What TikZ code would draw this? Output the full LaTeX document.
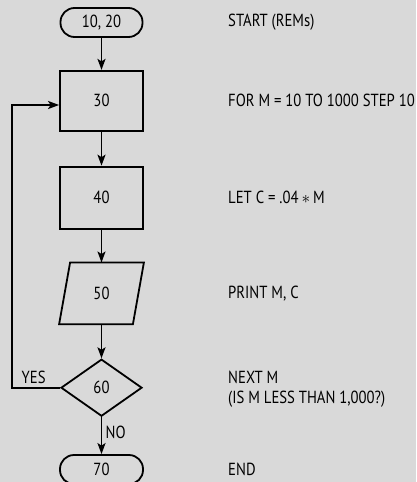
\documentclass[tikz,border=0pt]{standalone}
\usepackage{fontspec}
\setmainfont{PT Sans}[FakeStretch=0.84]
\usepackage{tikz}
\usetikzlibrary{arrows.meta,positioning,shapes.geometric,calc}
\definecolor{Paper}{HTML}{D9D9D9}

\begin{document}
\begin{tikzpicture}[x=1pt, y=1pt, node distance=34pt, line width=1.8pt,
    every node/.style={font=\fontsize{17.5}{20}\selectfont},
    arr/.style={-{Stealth[length=11pt,width=8pt,inset=2.5pt]}}]
  \fill[Paper] (0,0) rectangle (416,-482);
  \useasboundingbox (0,0) rectangle (416,-482);

  \node[draw, rounded corners=14pt, minimum width=82pt, minimum height=29pt] (start) at (101.5,-22.5) {10, 20};
  \node[draw, below=32pt of start, minimum width=83pt, minimum height=60pt] (b30) {30};
  \node[draw, below=of b30, minimum width=83pt, minimum height=62pt] (b40) {40};
  \node[below=33pt of b40, minimum width=83pt, minimum height=60pt, inner sep=0pt] (p50) {50};
  \draw ($(p50.north west)+(11,0)$) -- (p50.north east) -- ($(p50.south east)+(-11,0)$) -- (p50.south west) -- cycle;
  \node[draw, diamond, below=34pt of p50, minimum width=81pt, minimum height=57pt, inner sep=0pt] (d60) {60};
  \node[draw, rounded corners=14pt, below=37pt of d60, minimum width=83pt, minimum height=29pt] (e70) {70};

  \foreach \a/\b in {start/b30, b30/b40, b40/p50, p50/d60}
    \draw[arr] (\a) -- (\b);
  \draw[arr] (d60) -- node[right, pos=.4] {NO} (e70);

  % loop back from the test
  \coordinate (turn) at (12,-105);
  \draw[arr] (d60.west) -- node[above, pos=.55] {YES} (d60.west -| turn) -- (turn) -- (turn -| b30.west);

  % statements
  \coordinate (tx) at (224,0);
  \node[anchor=west] (t10) at (start -| tx) {START (REMs)};
  \node[anchor=west] (t30) at (b30 -| tx) {FOR M = 10 TO 1000 STEP 10};
  \node[anchor=west] (t40) at (b40 -| tx) {LET C = .04\,$\ast$\,M};
  \node[anchor=west] (t50) at (p50 -| tx) {PRINT M, C};
  \node[anchor=west, align=left] (t60) at ($(d60 -| tx)+(0,-1)$) {NEXT M\\(IS M LESS THAN 1,000?)};
  \node[anchor=west] (t70) at (e70 -| tx) {END};
\end{tikzpicture}
\end{document}
